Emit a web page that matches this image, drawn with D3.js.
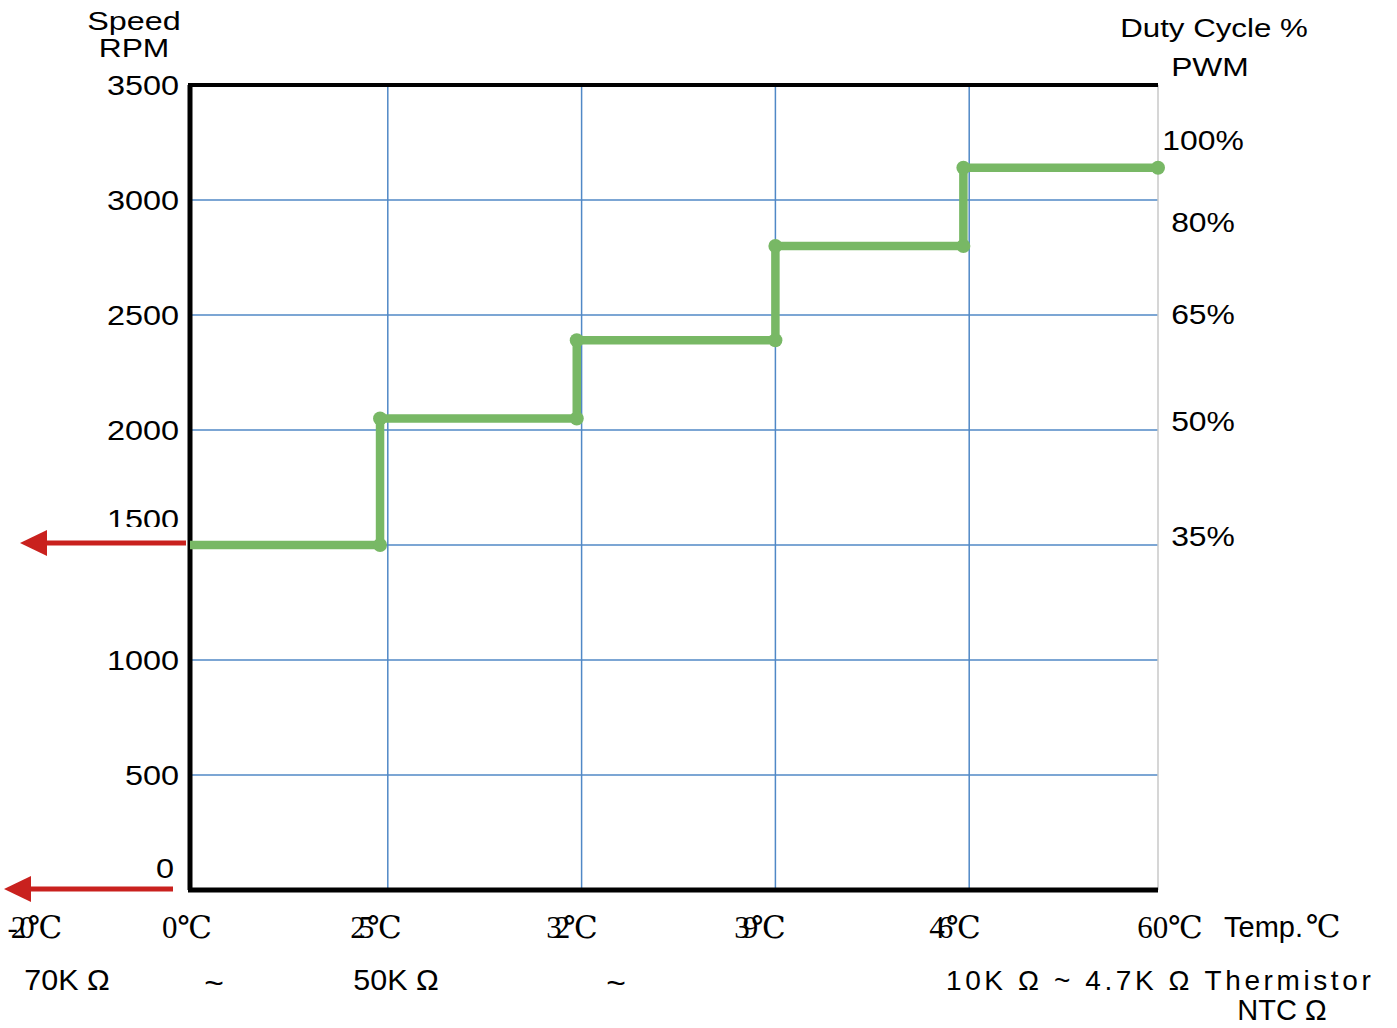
<!DOCTYPE html>
<html>
<head>
<meta charset="utf-8">
<script src="https://cdn.jsdelivr.net/npm/d3@7"></script>
<style>
  body { margin: 0; background: #fff; }
  text { font-family: "Liberation Sans", Arial, sans-serif; fill: #000; }
  .serif { font-family: "Liberation Serif", "DejaVu Serif", serif; }
</style>
</head>
<body>
<svg id="chart" width="1397" height="1028"></svg>
<script>
// temperature categories along the bottom
const tempLabels = ['0', '25', '32', '39', '46', '60'];
const rpmTicks = [0, 500, 1000, 1500, 2000, 2500, 3000, 3500];
// speed levels of the step curve and the temperature index where each step happens
const stepLevels = [1500, 2050, 2390, 2800, 3140];
const stepAt = [0.96, 1.975, 3.0, 3.97];
// duty cycle labels on the right, placed at an RPM height
const dutyLabels = ['100%', '80%', '65%', '50%', '35%'];
const dutyRpm = [3260, 2905, 2505, 2040, 1540];
// resistance row under the axis
const ohmLabels = ['70K Ω', '~', '50K Ω', '~'];
const ohmX = [67, 214, 396, 616];

const svg = d3.select('#chart');
const plotL = 190, plotR = 1158, plotT = 85, plotB = 890;

const y = d3.scaleLinear().domain([0, 3500]).range([plotB, plotT]);
const x = d3.scaleLinear().domain([0, 5]).range([194, 1163]);

// the source text is a bit stretched sideways
function label(g, px, py, s, size, anchor, sx) {
  return g.append('text')
    .attr('transform', `translate(${px},${py}) scale(${sx || 1},1)`)
    .attr('text-anchor', anchor || 'start')
    .attr('font-size', size)
    .text(s);
}

// grid
svg.append('g').selectAll('line')
  .data(rpmTicks.filter(d => d > 0 && d < 3500))
  .enter().append('line')
  .attr('x1', plotL).attr('x2', plotR)
  .attr('y1', d => y(d)).attr('y2', d => y(d))
  .attr('stroke', '#5088c6').attr('stroke-width', 1.5);

svg.append('g').selectAll('line')
  .data(d3.range(1, tempLabels.length - 1))
  .enter().append('line')
  .attr('x1', d => x(d)).attr('x2', d => x(d))
  .attr('y1', plotT).attr('y2', plotB)
  .attr('stroke', '#5088c6').attr('stroke-width', 1.5);

// frame
svg.append('line').attr('x1', plotR).attr('x2', plotR).attr('y1', plotT).attr('y2', plotB)
  .attr('stroke', '#c8c8c8').attr('stroke-width', 1.5);
svg.append('line').attr('x1', plotL - 2).attr('x2', plotR).attr('y1', plotT).attr('y2', plotT)
  .attr('stroke', '#000').attr('stroke-width', 4);
svg.append('line').attr('x1', plotL).attr('x2', plotL).attr('y1', plotT).attr('y2', plotB)
  .attr('stroke', '#000').attr('stroke-width', 5);
svg.append('line').attr('x1', plotL - 2).attr('x2', plotR).attr('y1', plotB).attr('y2', plotB)
  .attr('stroke', '#000').attr('stroke-width', 5);

// step curve
let pts = [[plotL, y(stepLevels[0])]];
stepAt.forEach((s, i) => {
  pts.push([x(s), y(stepLevels[i])]);
  pts.push([x(s), y(stepLevels[i + 1])]);
});
pts.push([plotR, y(stepLevels[stepLevels.length - 1])]);

svg.append('path')
  .attr('d', d3.line()(pts))
  .attr('fill', 'none').attr('stroke', '#78b865').attr('stroke-width', 8.5)
  .attr('stroke-linejoin', 'round');

svg.append('g').selectAll('circle')
  .data(pts.slice(1))
  .enter().append('circle')
  .attr('cx', d => d[0]).attr('cy', d => d[1]).attr('r', 7)
  .attr('fill', '#78b865');

// y tick labels (the 1500 one is cut off at the bottom in the source)
svg.append('clipPath').attr('id', 'cut1500')
  .append('rect').attr('x', 0).attr('y', 480).attr('width', 189).attr('height', 47);
const yLab = svg.append('g');
rpmTicks.forEach(t => {
  let ty = y(t) + 10;
  if (t === 1500) ty = y(t) - 16;
  if (t === 0) ty = y(t) - 12;
  const tx = t === 0 ? 174 : 179;
  const holder = t === 1500 ? yLab.append('g').attr('clip-path', 'url(#cut1500)') : yLab;
  label(holder, tx, ty, t, 27, 'end', 1.2);
});

// axis titles
label(svg, 134, 30, 'Speed', 26.5, 'middle', 1.22);
label(svg, 134, 57, 'RPM', 26.5, 'middle', 1.2);
label(svg, 1214, 37, 'Duty Cycle %', 26.5, 'middle', 1.18);
label(svg, 1210, 76, 'PWM', 26.5, 'middle', 1.2);

// duty labels
const dutyG = svg.append('g');
dutyLabels.forEach((d, i) => label(dutyG, 1203, y(dutyRpm[i]) + 10, d, 27, 'middle', 1.18));

// red arrows
[[1500, 20, 186], [0, 4, 173]].forEach(a => {
  const ay = y(a[0]) - (a[0] === 0 ? 1 : 2);
  svg.append('line').attr('x1', a[1] + 20).attr('x2', a[2]).attr('y1', ay).attr('y2', ay)
    .attr('stroke', '#c9211e').attr('stroke-width', 5);
  svg.append('path')
    .attr('d', d3.line()([[a[1], ay], [a[1] + 27, ay - 13], [a[1] + 27, ay + 13]]) + 'Z')
    .attr('fill', '#c9211e');
});

// temperature labels
const tempG = svg.append('g');
const allTemps = ['-20'].concat(tempLabels);
const tempX = [35, 187, 376, 572, 760, 955, 1170];
allTemps.forEach((t, i) => {
  const tt = tempG.append('text').attr('class', 'serif')
    .attr('x', tempX[i]).attr('y', 938).attr('text-anchor', 'middle').attr('font-size', 31);
  tt.append('tspan').attr('letter-spacing', (t === '0' || t === '60') ? 0 : -7).text(t);
  tt.append('tspan').text('℃');
});
const tmp = svg.append('text').attr('x', 1224).attr('y', 937).attr('font-size', 29);
tmp.append('tspan').text('Temp.');
tmp.append('tspan').attr('class', 'serif').attr('font-size', 31).attr('dx', 3).text('℃');

// resistance row
const ohmG = svg.append('g');
ohmLabels.forEach((d, i) => label(ohmG, ohmX[i], d === '~' ? 994 : 990, d, d === '~' ? 32 : 29, 'middle', 1.05));
svg.append('text').attr('x', 946).attr('y', 990).attr('font-size', 28).attr('letter-spacing', 3.6)
  .text('10K Ω ~ 4.7K Ω Thermistor');
svg.append('text').attr('x', 1282).attr('y', 1020).attr('text-anchor', 'middle').attr('font-size', 29)
  .text('NTC Ω');
</script>
</body>
</html>
